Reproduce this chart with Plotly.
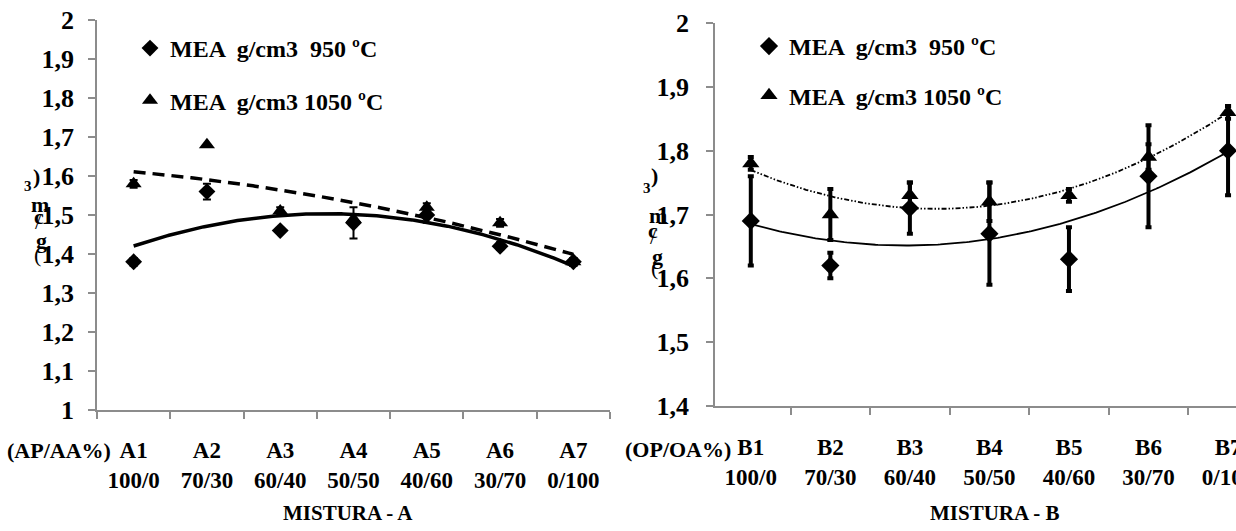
import numpy as np
import plotly.graph_objects as go

# ---------------- data ----------------
cats_a = ["A1", "A2", "A3", "A4", "A5", "A6", "A7"]
ratios_a = ["100/0", "70/30", "60/40", "50/50", "40/60", "30/70", "0/100"]
cats_b = ["B1", "B2", "B3", "B4", "B5", "B6", "B7"]
ratios_b = ["100/0", "70/30", "60/40", "50/50", "40/60", "30/70", "0/100"]

a_950 = [1.38, 1.56, 1.46, 1.48, 1.50, 1.42, 1.38]
a_950_err = [0.01, 0.02, 0.0, 0.04, 0.02, 0.01, 0.01]
a_1050 = [1.58, 1.68, 1.51, 1.49, 1.52, 1.48, 1.38]
a_1050_err = [0.01, 0.0, 0.01, 0.01, 0.01, 0.01, 0.01]

b_950 = [1.69, 1.62, 1.71, 1.67, 1.63, 1.76, 1.80]
b_950_err = [0.07, 0.02, 0.04, 0.08, 0.05, 0.08, 0.07]
b_1050 = [1.78, 1.70, 1.73, 1.72, 1.73, 1.79, 1.86]
b_1050_err = [0.01, 0.04, 0.02, 0.03, 0.01, 0.02, 0.01]

ytick_a = ["1", "1,1", "1,2", "1,3", "1,4", "1,5", "1,6", "1,7", "1,8", "1,9", "2"]
ytick_b = ["1,4", "1,5", "1,6", "1,7", "1,8", "1,9", "2"]

name_950 = "MEA  g/cm3  950 ºC"
name_1050 = "MEA  g/cm3 1050 ºC"
x_label_a = "(AP/AA%)"
x_label_b = "(OP/OA%)"
title_a = "MISTURA - A"
title_b = "MISTURA - B"
ytitle_chars = [")", "3", "m", "c", "/", "g", "("]

# ---------------- helpers ----------------
W, H = 1236, 531
FONT = "Liberation Serif"
GREY = "#8c8c8c"


def px(x):
    return x / W


def py(y):
    return 1 - y / H


def b(s):
    return f"<b>{s}</b>"


def keep_spaces(s):
    return s.replace("  ", " \u00a0")


def trend(vals, xs):
    idx = np.arange(len(vals))
    coef = np.polyfit(idx, np.array(vals), 2)
    return np.polyval(coef, xs)


fig = go.Figure()

xs_a = np.arange(len(cats_a))
xs_b = np.arange(len(cats_b))
dense = np.linspace(0, len(cats_a) - 1, 200)

# ---- left chart: trendlines ----
fig.add_trace(go.Scatter(x=dense, y=trend(a_950, dense), mode="lines",
                         line=dict(color="black", width=3.5), showlegend=False,
                         hoverinfo="skip", xaxis="x", yaxis="y"))
fig.add_trace(go.Scatter(x=dense, y=trend(a_1050, dense), mode="lines",
                         line=dict(color="black", width=3.5, dash="12px,7px"),
                         showlegend=False, hoverinfo="skip", xaxis="x", yaxis="y"))
# ---- left chart: markers ----
fig.add_trace(go.Scatter(x=xs_a, y=a_950, mode="markers", name=b(keep_spaces(name_950)),
                         marker=dict(symbol="diamond", size=13, color="black"),
                         error_y=dict(type="data", array=a_950_err, color="black",
                                      thickness=2, width=4),
                         legend="legend", legendgroup="a1", xaxis="x", yaxis="y"))
fig.add_trace(go.Scatter(x=xs_a, y=a_1050, mode="markers", name=b(keep_spaces(name_1050)),
                         marker=dict(symbol="triangle-up", size=14, color="black"),
                         error_y=dict(type="data", array=a_1050_err, color="black",
                                      thickness=2, width=4),
                         legend="legend", legendgroup="a2", xaxis="x", yaxis="y"))

# ---- right chart: trendlines ----
fig.add_trace(go.Scatter(x=dense, y=trend(b_950, dense), mode="lines",
                         line=dict(color="black", width=1.8), showlegend=False,
                         hoverinfo="skip", xaxis="x2", yaxis="y2"))
fig.add_trace(go.Scatter(x=dense, y=trend(b_1050, dense), mode="lines",
                         line=dict(color="black", width=1.8,
                                   dash="5px,2px,1.5px,2px,1.5px,2px"),
                         showlegend=False, hoverinfo="skip", xaxis="x2", yaxis="y2"))
# ---- right chart: markers ----
fig.add_trace(go.Scatter(x=xs_b, y=b_950, mode="markers", name=b(keep_spaces(name_950)),
                         marker=dict(symbol="diamond", size=14, color="black"),
                         error_y=dict(type="data", array=b_950_err, color="black",
                                      thickness=4, width=3),
                         legend="legend2", legendgroup="b1", xaxis="x2", yaxis="y2"))
fig.add_trace(go.Scatter(x=xs_b, y=b_1050, mode="markers", name=b(keep_spaces(name_1050)),
                         marker=dict(symbol="triangle-up", size=15, color="black"),
                         error_y=dict(type="data", array=b_1050_err, color="black",
                                      thickness=4, width=3),
                         legend="legend2", legendgroup="b2", xaxis="x2", yaxis="y2"))

xtickfont = dict(family=FONT, size=23, color="black")
ytickfont = dict(family=FONT, size=26, color="black")

common_x = dict(showgrid=False, zeroline=False, showline=True, linecolor=GREY,
                linewidth=1.5, ticks="", tickfont=xtickfont, automargin=False,
                ticklabeloverflow="allow",
                minor=dict(tickmode="linear", tick0=-0.5, dtick=1, ticks="outside",
                           ticklen=7, tickcolor=GREY, tickwidth=1.5, showgrid=False))
common_y = dict(showgrid=False, zeroline=False, showline=True, linecolor=GREY,
                linewidth=1.5, ticks="outside", ticklen=7, tickcolor=GREY,
                tickwidth=1.5, tickfont=ytickfont, automargin=False,
                ticklabeloverflow="allow")

fig.update_layout(
    width=W, height=H, margin=dict(l=0, r=0, t=0, b=0, autoexpand=False),
    paper_bgcolor="white", plot_bgcolor="white",
    xaxis=dict(domain=[px(97), px(610)], range=[-0.5, 6.5], anchor="y",
               tickmode="array", tickvals=list(xs_a), ticklabelstandoff=19,
               ticktext=[b(f"{c}<br>{r}") for c, r in zip(cats_a, ratios_a)], **common_x),
    yaxis=dict(domain=[py(410), py(20)], range=[1, 2], anchor="x",
               tickmode="array", tickvals=list(np.round(np.arange(1, 2.01, 0.1), 2)),
               ticklabelstandoff=9,
               ticktext=[b(t) for t in ytick_a], **common_y),
    xaxis2=dict(domain=[px(715), 1.0], range=[-0.45, 6.1], anchor="y2",
                tickmode="array", tickvals=list(xs_b), ticklabelstandoff=20,
                ticktext=[b(f"{c}<br>{r}") for c, r in zip(cats_b, ratios_b)], **common_x),
    yaxis2=dict(domain=[py(406), py(23)], range=[1.4, 2.0], anchor="x2",
                tickmode="array", tickvals=list(np.round(np.arange(1.4, 2.01, 0.1), 2)),
                ticklabelstandoff=12,
                ticktext=[b(t) for t in ytick_b], **common_y),
    legend=dict(x=px(130), y=py(26), xanchor="left", yanchor="top",
                bgcolor="rgba(0,0,0,0)", tracegroupgap=18,
                font=dict(family=FONT, size=24, color="black")),
    legend2=dict(x=px(749), y=py(24), xanchor="left", yanchor="top",
                 bgcolor="rgba(0,0,0,0)", tracegroupgap=15,
                 font=dict(family=FONT, size=24, color="black")),
    showlegend=True,
)

annots = []
lab_font = dict(family=FONT, size=22, color="black")
annots.append(dict(text=b(x_label_a), x=px(113), y=py(450), xref="paper", yref="paper",
                   xanchor="right", yanchor="middle", showarrow=False, font=lab_font))
annots.append(dict(text=b(x_label_b), x=px(733), y=py(449), xref="paper", yref="paper",
                   xanchor="right", yanchor="middle", showarrow=False, font=lab_font))
annots.append(dict(text=b(title_a), x=px(348), y=py(513), xref="paper", yref="paper",
                   xanchor="center", yanchor="middle", showarrow=False,
                   font=dict(family=FONT, size=21, color="black")))
annots.append(dict(text=b(title_b), x=px(995), y=py(513), xref="paper", yref="paper",
                   xanchor="center", yanchor="middle", showarrow=False,
                   font=dict(family=FONT, size=21, color="black")))

# stacked y-axis title glyphs "(g/cm3)"
pos_left = [(36, 176), (28, 186), (40, 204), (39, 216), (38, 222), (41, 240), (37, 254)]
pos_right = [(654, 175), (647, 188), (658, 215), (653, 230), (653, 236), (657, 257), (655, 267)]
for pos in (pos_left, pos_right):
    for ch, (cx, cy) in zip(ytitle_chars, pos):
        size = 15 if ch == "3" else 22
        txt = ch if ch in "/(" else b(ch)
        annots.append(dict(text=txt, x=px(cx), y=py(cy), xref="paper", yref="paper",
                           xanchor="center", yanchor="middle", showarrow=False,
                           font=dict(family=FONT, size=size, color="black")))
fig.update_layout(annotations=annots)

fig.write_html("out.html")
